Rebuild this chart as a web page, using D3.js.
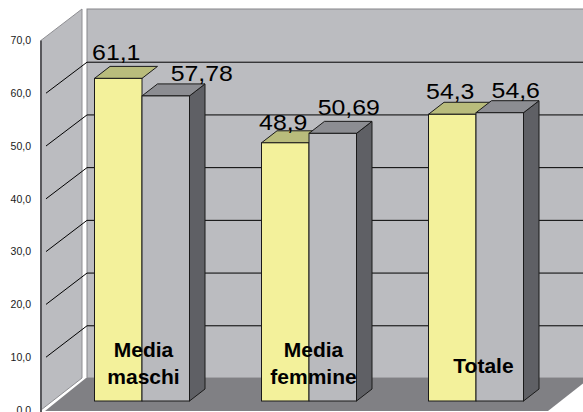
<!DOCTYPE html>
<html>
<head>
<meta charset="utf-8">
<script src="https://cdn.jsdelivr.net/npm/d3@7/dist/d3.min.js"></script>
<style>
  html, body { margin: 0; padding: 0; background: #ffffff; }
  svg { display: block; }
  text { font-family: "Liberation Sans", Arial, sans-serif; }
</style>
</head>
<body>
<svg id="chart" width="583" height="412"></svg>
<script>
// Chart data
const categories = ["Media maschi", "Media femmine", "Totale"];
const seriesKeys = ["a", "b"];
const valuesA = [61.1, 48.9, 54.3];
const valuesB = [57.78, 50.69, 54.6];
const labelsA = ["61,1", "48,9", "54,3"];
const labelsB = ["57,78", "50,69", "54,6"];
const tickValues = [0, 10, 20, 30, 40, 50, 60, 70];

const itLocale = d3.formatLocale({ decimal: ",", thousands: ".", grouping: [3], currency: ["", "€"] });
const tickFormat = itLocale.format(".1f");

const svg = d3.select("#chart");

// 3D layout: front plane of the side wall, back wall plane, bar front plane
const depth = { dx: 41, dy: -31 };
const barDepth = { dx: 15.5, dy: -12 };
const frontX = 41, backX = 87, rightX = 583;

const yFront = d3.scaleLinear().domain([0, 70]).range([410, 40.4]);
const yBack = d3.scaleLinear().domain([0, 70]).range([378, 9]);
const yBar = d3.scaleLinear().domain([0, 70]).range([401, 31.4]);

const xGroup = d3.scalePoint().domain(categories).range([142, 476]);
const xInner = d3.scaleBand().domain(seriesKeys).range([-47.5, 47.5]).padding(0);

const colors = {
  wall: "#bbbcc0",
  floor: "#808084",
  a: { front: "#f3f19b", top: "#b9bc7c" },
  b: { front: "#b9babe", top: "#8c8d92", side: "#5f6065" }
};

// Side wall
svg.append("polygon")
  .attr("points", [[frontX, yFront(70)], [frontX + depth.dx, yBack(70)], [frontX + depth.dx, yBack(0)], [frontX, yFront(0)]].join(" "))
  .attr("fill", colors.wall)
  .attr("stroke", "#8e8e92")
  .attr("stroke-width", 1);

// Back wall
svg.append("rect")
  .attr("x", backX).attr("y", yBack(70))
  .attr("width", rightX - backX + 5).attr("height", yBack(0) - yBack(70))
  .attr("fill", colors.wall)
  .attr("stroke", "#86868a")
  .attr("stroke-width", 1);

// Floor
svg.append("polygon")
  .attr("points", [[backX - 1, yBack(0)], [rightX + 7, yBack(0)], [rightX + 7 - depth.dx - 1, yFront(0) + 1], [frontX + 4, yFront(0) + 1]].join(" "))
  .attr("fill", colors.floor);

// Gridlines on back wall and side wall
const gridTicks = tickValues.filter(v => v > 0 && v < 70);
svg.append("g").selectAll("line.back")
  .data(gridTicks).join("line")
  .attr("x1", backX).attr("x2", rightX)
  .attr("y1", d => yBack(d) + 0.5).attr("y2", d => yBack(d) + 0.5)
  .attr("stroke", "#000").attr("stroke-width", 1);
svg.append("g").selectAll("line.side")
  .data(gridTicks).join("line")
  .attr("x1", frontX + 5).attr("y1", d => yFront(d))
  .attr("x2", backX).attr("y2", d => yBack(d) + 0.5)
  .attr("stroke", "#000").attr("stroke-width", 1);

// Front value axis
svg.append("line")
  .attr("x1", frontX).attr("x2", frontX)
  .attr("y1", yFront(70)).attr("y2", yFront(0) + 2)
  .attr("stroke", "#58585c").attr("stroke-width", 2);

const axis = d3.axisLeft(yFront).tickValues(tickValues).tickFormat(tickFormat).tickSize(0).tickPadding(10);
const axisG = svg.append("g").attr("transform", `translate(${frontX},0)`).call(axis);
axisG.select(".domain").remove();
axisG.selectAll("text").attr("font-size", 10.5).attr("fill", "#1a1a1a")
  .attr("font-family", "'Liberation Sans', Arial, sans-serif");

// Bars
const bars = [];
categories.forEach((c, i) => {
  bars.push({ cat: c, key: "a", value: valuesA[i], label: labelsA[i], i });
  bars.push({ cat: c, key: "b", value: valuesB[i], label: labelsB[i], i });
});

const barG = svg.append("g");
bars.forEach(d => {
  const x0 = xGroup(d.cat) + xInner(d.key);
  const x1 = x0 + xInner.bandwidth();
  const yt = yBar(d.value), yb = yBar(0);
  const g = barG.append("g");
  const col = colors[d.key];
  if (col.side) {
    g.append("polygon")
      .attr("points", [[x1, yt], [x1 + barDepth.dx, yt + barDepth.dy], [x1 + barDepth.dx, yb + barDepth.dy], [x1, yb]].join(" "))
      .attr("fill", col.side).attr("stroke", "#1a1a1a").attr("stroke-width", 1).attr("stroke-linejoin", "round");
  }
  g.append("polygon")
    .attr("points", [[x0, yt], [x0 + barDepth.dx, yt + barDepth.dy], [x1 + barDepth.dx, yt + barDepth.dy], [x1, yt]].join(" "))
    .attr("fill", col.top).attr("stroke", "#1a1a1a").attr("stroke-width", 1).attr("stroke-linejoin", "round");
  g.append("rect")
    .attr("x", x0).attr("y", yt)
    .attr("width", x1 - x0).attr("height", yb - yt)
    .attr("fill", col.front).attr("stroke", "#1a1a1a").attr("stroke-width", 1);
});

// Value labels above the bars
const labelShift = { a: -2, b: 16 };
const extraShift = { "Media maschi|b": 20 };
const labelLift = { "Media maschi|a": 6, "Media maschi|b": 3, "Media femmine|a": 1, "Media femmine|b": 6, "Totale|a": 3, "Totale|b": 3 };
svg.append("g").selectAll("text.value")
  .data(bars).join("text")
  .attr("transform", d => {
    const cx = xGroup(d.cat) + xInner(d.key) + xInner.bandwidth() / 2 + labelShift[d.key] + (extraShift[d.cat + "|" + d.key] || 0);
    const cy = yBar(d.value) + barDepth.dy - labelLift[d.cat + "|" + d.key];
    return `translate(${cx},${cy}) scale(1.13,1)`;
  })
  .attr("text-anchor", "middle")
  .attr("font-size", 22)
  .attr("fill", "#000")
  .text(d => d.label);

// Category labels
const catG = svg.append("g");
categories.forEach((c, i) => {
  const words = c.split(" ");
  const cx = xGroup(c) + 1.5 + 3 * i;
  const t = catG.append("text")
    .attr("text-anchor", "middle")
    .attr("font-size", 21)
    .attr("font-weight", "bold")
    .attr("fill", "#000");
  if (words.length > 1) {
    words.forEach((w, j) => {
      t.append("tspan").attr("x", cx).attr("y", 357 + j * 27).text(w);
    });
  } else {
    t.append("tspan").attr("x", cx).attr("y", 373).text(c);
  }
});
</script>
</body>
</html>
